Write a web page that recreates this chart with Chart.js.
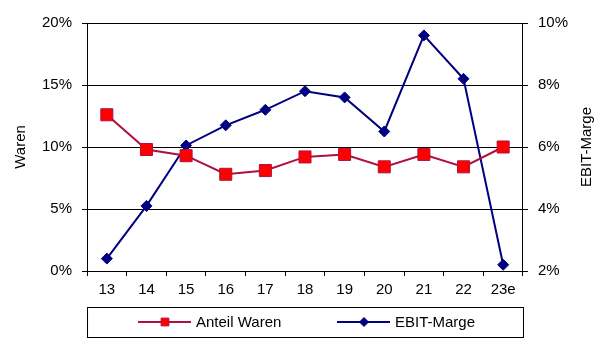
<!DOCTYPE html>
<html>
<head>
<meta charset="utf-8">
<script src="https://cdn.jsdelivr.net/npm/chart.js@4/dist/chart.umd.min.js"></script>
<style>
  html, body { margin: 0; padding: 0; background: #fff; }
  #wrap { width: 602px; height: 338px; }
</style>
</head>
<body>
<div id="wrap"><canvas id="chart" width="602" height="338"></canvas></div>
<script>
const categories = ["13", "14", "15", "16", "17", "18", "19", "20", "21", "22", "23e"];
const anteilWaren = [12.6, 9.8, 9.3, 7.8, 8.1, 9.2, 9.4, 8.4, 9.4, 8.4, 10.0];
const ebitMarge = [2.4, 4.1, 6.05, 6.7, 7.2, 7.8, 7.6, 6.5, 9.6, 8.2, 2.2];
const leftTicks = [0, 5, 10, 15, 20];
const rightTicks = [2, 4, 6, 8, 10];

const FONT = "'Liberation Sans', Arial, sans-serif";

// Titel der rechten Achse (von unten nach oben lesbar, wie links)
const rightTitle = {
    id: "rightTitle",
    afterDraw(chart) {
        const ctx = chart.ctx;
        const a = chart.chartArea;
        ctx.save();
        ctx.translate(587, (a.top + a.bottom) / 2);
        ctx.rotate(-Math.PI / 2);
        ctx.font = "15px " + FONT;
        ctx.fillStyle = "#000";
        ctx.textAlign = "center";
        ctx.textBaseline = "middle";
        ctx.fillText("EBIT-Marge", 0, 0);
        ctx.restore();
    }
};

// Legende im Kasten unter dem Diagramm (Linie + Marker)
const boxLegend = {
    id: "boxLegend",
    afterDraw(chart) {
        const ctx = chart.ctx;
        const a = chart.chartArea;
        const top = chart.height - 31;
        const bottom = chart.height - 1;
        ctx.save();
        ctx.strokeStyle = "#000";
        ctx.lineWidth = 1;
        ctx.strokeRect(a.left + 0.5, top + 0.5, a.right - a.left, bottom - top);
        const cy = (top + bottom) / 2;
        const items = [
            { ds: chart.data.datasets[0], x: 138, r: 5.5 },
            { ds: chart.data.datasets[1], x: 337, r: 4.5 }
        ];
        ctx.font = "15px " + FONT;
        ctx.textBaseline = "middle";
        items.forEach(it => {
            const ds = it.ds;
            ctx.strokeStyle = ds.borderColor;
            ctx.lineWidth = 2;
            ctx.beginPath();
            ctx.moveTo(it.x, cy);
            ctx.lineTo(it.x + 53, cy);
            ctx.stroke();
            ctx.fillStyle = ds.pointBackgroundColor;
            ctx.strokeStyle = ds.pointBorderColor;
            ctx.lineWidth = 1;
            Chart.helpers.drawPoint(ctx, {
                pointStyle: ds.pointStyle,
                radius: it.r,
                rotation: 0,
                borderWidth: 1
            }, it.x + 27, cy);
            ctx.fillStyle = "#000";
            ctx.fillText(ds.label, it.x + 58, cy + 1);
        });
        ctx.restore();
    }
};

const ctx = document.getElementById("chart").getContext("2d");

new Chart(ctx, {
    type: "line",
    data: {
        labels: categories,
        datasets: [{
            label: "Anteil Waren",
            data: anteilWaren,
            yAxisID: "y",
            borderColor: "#b0103c",
            borderWidth: 2,
            pointStyle: "rect",
            pointRadius: 8.5,
            pointHoverRadius: 8.5,
            pointBackgroundColor: "#ff0000",
            pointBorderColor: "#b0103c",
            pointBorderWidth: 1,
            tension: 0
        }, {
            label: "EBIT-Marge",
            data: ebitMarge,
            yAxisID: "y1",
            borderColor: "#000080",
            borderWidth: 2,
            pointStyle: "rectRot",
            pointRadius: 5.5,
            pointHoverRadius: 5.5,
            pointBackgroundColor: "#000080",
            pointBorderColor: "#000080",
            pointBorderWidth: 1,
            tension: 0
        }]
    },
    options: {
        responsive: false,
        animation: false,
        devicePixelRatio: 1,
        layout: { padding: { top: 23, bottom: 34, left: 12, right: 24 } },
        plugins: {
            legend: { display: false },
            tooltip: { enabled: false }
        },
        scales: {
            x: {
                offset: true,
                grid: {
                    offset: true,
                    drawOnChartArea: false,
                    color: "#000",
                    tickLength: 5
                },
                border: { color: "#000" },
                ticks: { color: "#000", font: { family: FONT, size: 15 }, padding: 5 }
            },
            y: {
                position: "left",
                min: 0,
                max: 20,
                afterBuildTicks: s => { s.ticks = leftTicks.map(v => ({ value: v })); },
                grid: { color: "#000", tickLength: 5 },
                border: { color: "#000" },
                ticks: {
                    color: "#000",
                    font: { family: FONT, size: 15 },
                    padding: 10,
                    callback: v => v + "%"
                },
                title: {
                    display: true,
                    text: "Waren",
                    color: "#000",
                    font: { family: FONT, size: 15 },
                    padding: { top: 0, bottom: 2 }
                }
            },
            y1: {
                position: "right",
                min: 2,
                max: 10,
                afterBuildTicks: s => { s.ticks = rightTicks.map(v => ({ value: v })); },
                grid: { drawOnChartArea: false, color: "#000", tickLength: 5 },
                border: { color: "#000" },
                ticks: {
                    color: "#000",
                    font: { family: FONT, size: 15 },
                    padding: 10,
                    callback: v => v + "%"
                }
            }
        }
    },
    plugins: [rightTitle, boxLegend]
});
</script>
</body>
</html>
